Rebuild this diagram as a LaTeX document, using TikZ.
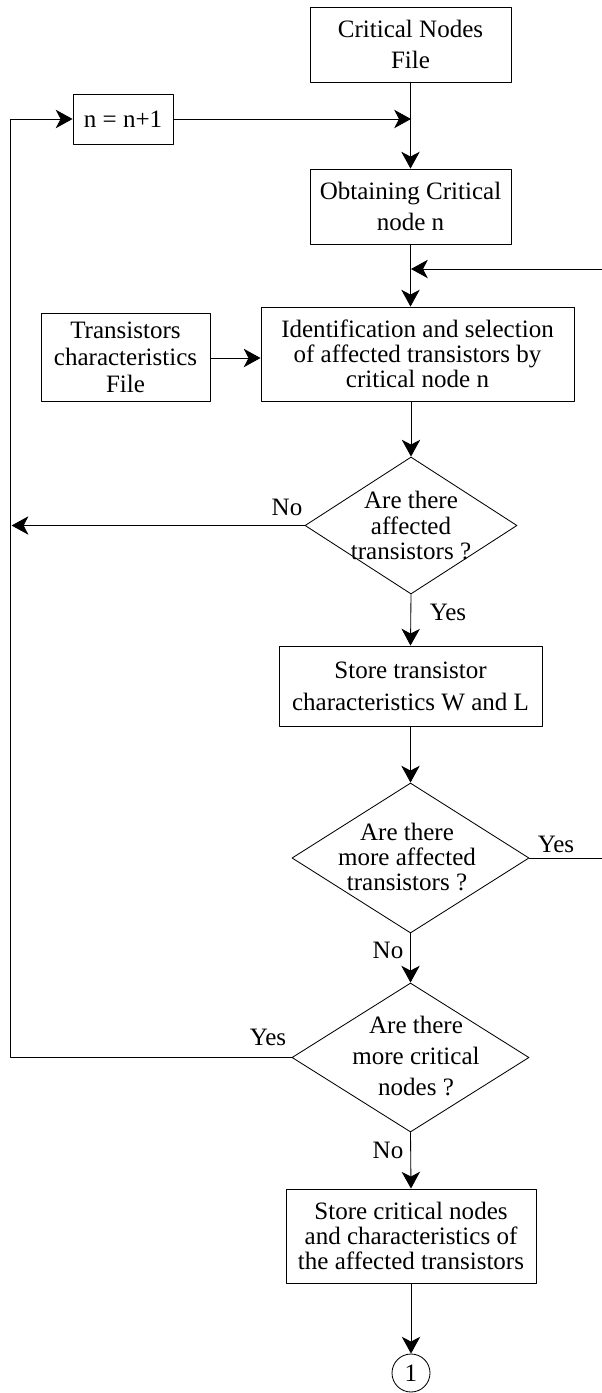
\documentclass[tikz,border=0pt]{standalone}
\usepackage{fontspec}
\setmainfont{Liberation Serif}
\usetikzlibrary{shapes.geometric,arrows.meta}
\begin{document}
\begin{tikzpicture}[x=0.025cm,y=-0.025cm,>={Stealth[length=0.42cm,width=0.46cm,inset=0.12cm]},line join=round,line cap=round,line width=0.6pt,font=\fontsize{17.8}{17.8}\selectfont,
		box/.style={draw,rectangle,align=center,inner sep=0pt},
		decision/.style={draw,diamond,inner sep=0pt},
		tag/.style={inner sep=0pt}]
			\def\xl{10}
			\def\xr{602}
			\useasboundingbox (0,0) rectangle (601,1393);
			\node[box,minimum width=5.025cm,minimum height=1.875cm] (cnf) at (410.5,44.5) {Critical Nodes\\[4.5pt]File};
			\node[box,minimum width=2.5cm,minimum height=1.25cm] (incr) at (123,119) {n = n+1};
			\node[box,minimum width=5.025cm,minimum height=1.875cm] (obt) at (410.5,206.5) {Obtaining Critical\\[4.5pt]node n};
			\node[box,minimum width=4.225cm,minimum height=2.2cm] (trf) at (125.5,357) {Transistors\\[1.5pt]characteristics\\[1.5pt]File};
			\node[box,minimum width=7.825cm,minimum height=2.35cm] (idt) at (417.5,354) {Identification and selection\\of affected transistors by\\critical node n};
			\node[decision,minimum width=5.3cm,minimum height=3.425cm] (dec1) at (411,525.5) {};
			\node[align=center] (q1) at (411,525.5) {Are there\\affected\\transistors ?};
			\node[box,minimum width=6.575cm,minimum height=2cm] (st1) at (410.5,686) {Store transistor\\[5pt]characteristics W and L};
			\node[decision,minimum width=5.925cm,minimum height=3.75cm] (dec2) at (410.5,858) {};
			\node[align=center] (q2) at (407,857) {Are there\\more affected\\transistors ?};
			\node[decision,minimum width=5.925cm,minimum height=3.725cm] (dec3) at (410.5,1057.5) {};
			\node[align=center] (q3) at (416,1056) {Are there\\[4pt]more critical\\[4pt]nodes ?};
			\node[box,minimum width=6.25cm,minimum height=2.35cm] (st2) at (411,1236) {Store critical nodes\\and characteristics of\\the affected transistors};
			\node[draw,circle,minimum size=0.95cm,inner sep=0pt] (out) at (411,1373) {1};
			\coordinate (lrail) at (\xl,0);
			\coordinate (rrail) at (\xr,0);
			\coordinate (j1) at (411,119);
			\coordinate (j2) at (411,269);
			\draw[->] (cnf.south) -- (obt.north);
			\draw[->] (incr.east) -- (j1);
			\draw[->] (obt.south) -- (obt.south |- idt.north);
			\draw[->] (trf.east |- 0,358) -- (idt.west |- 0,358);
			\draw[->] (dec1.north |- idt.south) -- (dec1.north);
			\draw[->] (dec1.west) -- ([xshift=0.04cm]dec1.west -| lrail); % Nhánh No quay về trục trái
			\draw[->] (dec1.south) -- (st1.north);
			\draw[->] (st1.south) -- (dec2.north);
			\draw[->] (dec2.east) -- (dec2.east -| rrail) |- (j2); % Nhánh Yes quay lại phía trên
			\draw[->] (dec2.south) -- (dec3.north);
			\draw[->] (dec3.west) -- (dec3.west -| lrail) |- (incr.west); % Vòng lặp n = n+1
			\draw[->] (dec3.south) -- (st2.north);
			\draw[->] (st2.south) -- (out.north);
			\node[tag] (no1) at (287,507) {No};
			\node[tag] (yes1) at (448,612) {Yes};
			\node[tag] (yes2) at (556,844) {Yes};
			\node[tag] (no2) at (388,950) {No};
			\node[tag] (yes3) at (268,1037) {Yes};
			\node[tag] (no3) at (388,1150) {No};
		\end{tikzpicture}
\end{document}
